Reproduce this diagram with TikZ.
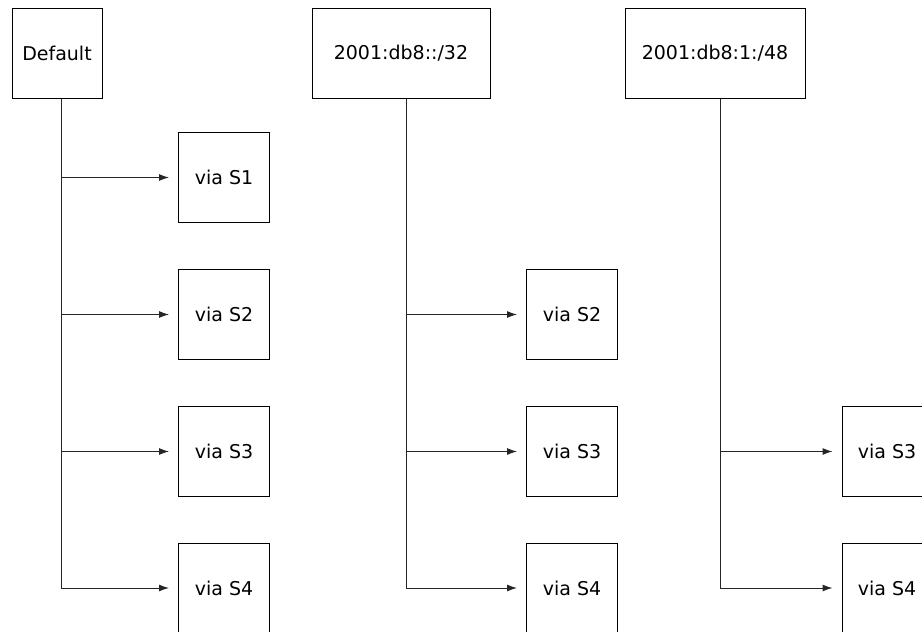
\documentclass[tikz,border=0pt]{standalone}
\usepackage{fontspec}
\setmainfont{DejaVu Sans}
\usetikzlibrary{arrows.meta}
\begin{document}
\begin{tikzpicture}[x=1pt,y=-1pt,
  box/.style={draw=black, line width=1pt, minimum width=91pt, minimum height=90pt, inner sep=0pt, font=\fontsize{19}{21}\selectfont, anchor=center},
  wide/.style={box, minimum width=#1},
  conn/.style={draw=black!85, line width=1pt},
  arr/.style={conn, -{Latex[length=10pt,width=7pt]}, shorten >=9pt}]
\useasboundingbox (0,0) rectangle (922,632);
% column 1
\node[box, minimum width=90pt] (def) at (57,53) {Default};
\node[box] (a1) at (224,177.5) {via S1};
\node[box] (a2) at (224,314.5) {via S2};
\node[box] (a3) at (224,451.5) {via S3};
\node[box] (a4) at (224,588) {via S4};
\coordinate (v1) at (61,589);
\draw[conn] (def.south -| v1) -- (v1 |- a4);
\foreach \n in {a1,a2,a3,a4} \draw[arr] (v1 |- \n) -- (\n);
% column 2
\node[wide=178pt] (p32) at (401,53) {2001:db8::/32};
\node[box] (b2) at (572,314.5) {via S2};
\node[box] (b3) at (572,451.5) {via S3};
\node[box] (b4) at (572,588) {via S4};
\coordinate (v2) at (406,589);
\draw[conn] (p32.south -| v2) -- (v2 |- b4);
\foreach \n in {b2,b3,b4} \draw[arr] (v2 |- \n) -- (\n);
% column 3
\node[wide=180pt] (p48) at (715,53) {2001:db8:1:/48};
\node[box, minimum width=90pt] (c3) at (887,451.5) {via S3};
\node[box, minimum width=90pt] (c4) at (887,588) {via S4};
\coordinate (v3) at (720,589);
\draw[conn] (p48.south -| v3) -- (v3 |- c4);
\foreach \n in {c3,c4} \draw[arr] (v3 |- \n) -- (\n);
\end{tikzpicture}
\end{document}
